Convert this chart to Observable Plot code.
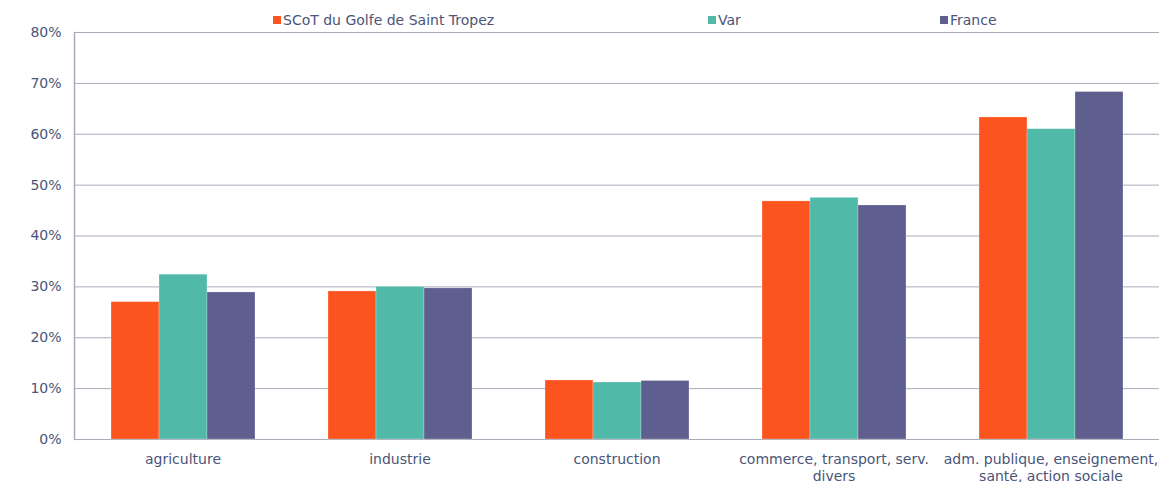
<!DOCTYPE html>
<html>
<head>
<meta charset="utf-8">
<script src="https://cdn.jsdelivr.net/npm/d3@7"></script>
<script src="https://cdn.jsdelivr.net/npm/@observablehq/plot@0.6"></script>
<style>
  html, body { margin: 0; padding: 0; background: #fff; }
  #wrap { width: 1176px; height: 482px; font-family: "DejaVu Sans", Verdana, sans-serif; color: #4a5578; }
  #legend { position: relative; width: 1176px; height: 24px; font-size: 14px; }
  .item { position: absolute; top: 11px; height: 18px; display: flex; align-items: center; white-space: nowrap; }
  .sw { width: 8px; height: 8px; margin-right: 2px; }
</style>
</head>
<body>
<div id="wrap">
  <div id="legend"></div>
  <div id="chart"></div>
</div>
<script>
const categories = [
  "agriculture",
  "industrie",
  "construction",
  "commerce, transport, serv.\ndivers",
  "adm. publique, enseignement,\nsanté, action sociale"
];
const series = ["SCoT du Golfe de Saint Tropez", "Var", "France"];
const scotValues = [27.0, 29.1, 11.6, 46.8, 63.3];
const varValues = [32.4, 30.0, 11.2, 47.5, 61.0];
const franceValues = [28.9, 29.7, 11.5, 46.0, 68.3];
const colors = ["#fc541f", "#51b9a8", "#5e5e8f"];
const yTicks = [0, 10, 20, 30, 40, 50, 60, 70, 80];
const legendLeft = [273, 708, 940];

const seriesValues = [scotValues, varValues, franceValues];
const rows = [];
categories.forEach((c, i) => {
  series.forEach((s, j) => {
    rows.push({category: c, series: s, value: seriesValues[j][i]});
  });
});

const legend = document.getElementById("legend");
series.forEach((s, j) => {
  const it = document.createElement("div");
  it.className = "item";
  it.style.left = legendLeft[j] + "px";
  const sw = document.createElement("span");
  sw.className = "sw";
  sw.style.background = colors[j];
  const tx = document.createElement("span");
  tx.textContent = s;
  it.appendChild(sw);
  it.appendChild(tx);
  legend.appendChild(it);
});

const gridColor = "#a9abb8";

const chart = Plot.plot({
  width: 1176,
  height: 458,
  marginTop: 8,
  marginBottom: 43,
  marginLeft: 72,
  marginRight: 16,
  style: {fontFamily: "DejaVu Sans, Verdana, sans-serif", fontSize: "14px", color: "#4a5578", background: "white", overflow: "visible"},
  fx: {domain: categories, padding: 0, label: null},
  x: {domain: series, paddingInner: 0, paddingOuter: 0.748, axis: null},
  y: {domain: [0, 80], label: null},
  color: {domain: series, range: colors},
  marks: [
    Plot.gridY(yTicks, {stroke: gridColor, strokeOpacity: 1, strokeWidth: 1}),
    Plot.barY(rows, {fx: "category", x: "series", y: "value", fill: "series", stroke: "white", strokeWidth: 0.5, strokeOpacity: 0.5}),
    Plot.frame({anchor: "left", facetAnchor: "left", stroke: gridColor, strokeWidth: 1.5}),
    Plot.axisY(yTicks, {tickSize: 0, tickPadding: 13, tickFormat: d => d + "%", label: null, fill: "#4a5578"}),
    Plot.axisFx({anchor: "bottom", tickSize: 0, tickPadding: 13, label: null, lineHeight: 1.2, fill: "#4a5578"})
  ]
});
document.getElementById("chart").appendChild(chart);
</script>
</body>
</html>
